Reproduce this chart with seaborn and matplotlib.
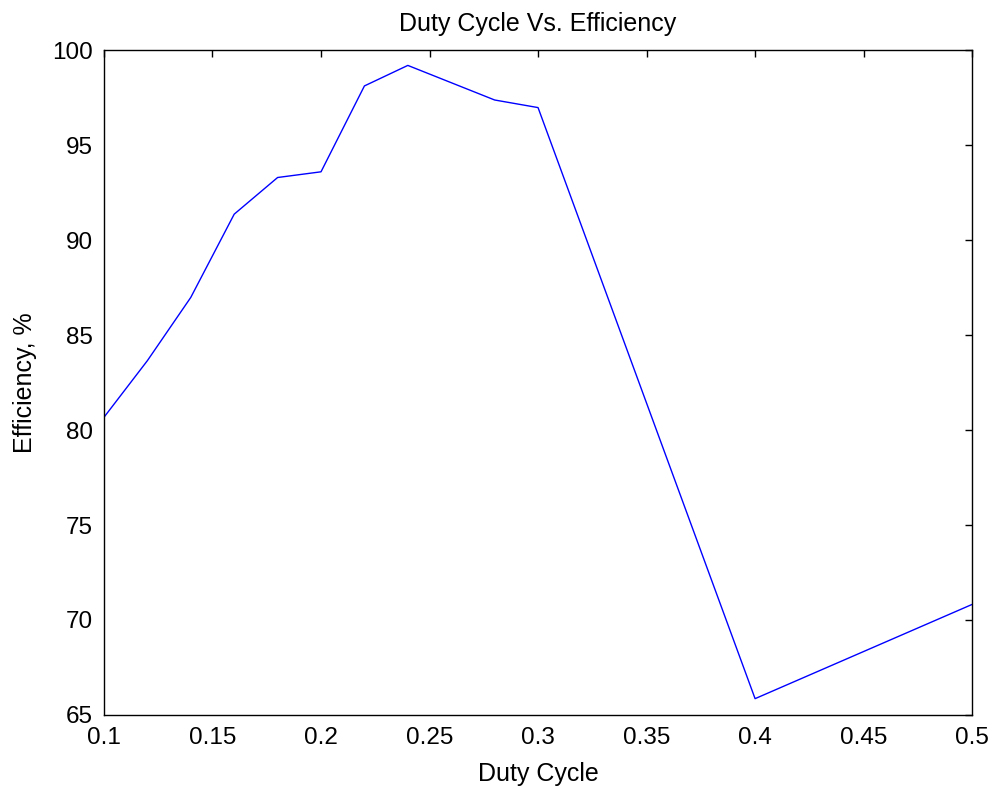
import matplotlib
matplotlib.use("Agg")
import matplotlib.pyplot as plt
import seaborn as sns
import pandas as pd

duty_cycle = [0.10, 0.12, 0.14, 0.16, 0.18, 0.20, 0.22, 0.24, 0.28, 0.30, 0.40, 0.50]
efficiency = [80.67, 83.65, 86.98, 91.36, 93.29, 93.59, 98.11, 99.19, 97.37, 96.97, 65.86, 70.82]
x_ticks = [0.1, 0.15, 0.2, 0.25, 0.3, 0.35, 0.4, 0.45, 0.5]
x_tick_labels = ["0.1", "0.15", "0.2", "0.25", "0.3", "0.35", "0.4", "0.45", "0.5"]
y_ticks = [65, 70, 75, 80, 85, 90, 95, 100]

sns.set_style("white")
plt.rcParams["font.family"] = ["Liberation Sans", "DejaVu Sans"]
plt.rcParams["text.color"] = "black"
plt.rcParams["axes.labelcolor"] = "black"

df = pd.DataFrame({"Duty Cycle": duty_cycle, "Efficiency": efficiency})

fig = plt.figure(figsize=(9.95, 7.89), dpi=100)
ax = fig.add_axes([0.1045, 0.0938, 0.8725, 0.8428])
sns.lineplot(data=df, x="Duty Cycle", y="Efficiency", ax=ax, color="#0000ff", linewidth=1.0)

ax.set_xlim(0.1, 0.5)
ax.set_ylim(65, 100)
ax.set_xticks(x_ticks)
ax.set_xticklabels(x_tick_labels)
ax.set_yticks(y_ticks)
ax.tick_params(direction="in", length=5, width=1, top=True, right=True,
               labelsize=17.5, colors="black")
ax.tick_params(axis="x", pad=9)
ax.tick_params(axis="y", pad=8)
for s in ax.spines.values():
    s.set_color("black")
    s.set_linewidth(1.0)
ax.set_xlabel("Duty Cycle", fontsize=18, labelpad=9)
ax.set_ylabel("Efficiency, %", fontsize=18, labelpad=11)
ax.set_title("Duty Cycle Vs. Efficiency", fontsize=18, pad=14)

fig.savefig("out.png", dpi=100)
